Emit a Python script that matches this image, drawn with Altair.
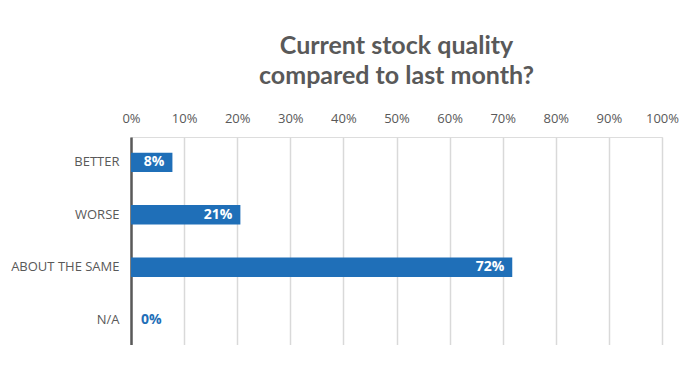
import altair as alt
import pandas as pd

categories = ["BETTER", "WORSE", "ABOUT THE SAME", "N/A"]
values = [0.078, 0.206, 0.718, 0.0]

df = pd.DataFrame({"cat": categories, "val": values})

FONT = "Open Sans"
GREY = "#595959"
BLUE = "#1f6fb8"

y_enc = alt.Y("cat:N", sort=categories, title=None,
              scale=alt.Scale(paddingInner=0.63, paddingOuter=0.3),
              axis=alt.Axis(labelFont=FONT, labelFontSize=13, labelColor=GREY,
                            labelPadding=12, ticks=False, domainColor="#595959",
                            domainWidth=2.5, grid=False))
x_enc = alt.X("val:Q", title=None,
              scale=alt.Scale(domain=[0, 1]),
              axis=alt.Axis(orient="top", format=".0%", values=[i / 10 for i in range(11)],
                            labelFont=FONT, labelFontSize=13, labelColor=GREY,
                            labelPadding=12, ticks=False, domain=False,
                            labelFlush=False, labelOverlap=False, labelBound=False,
                            grid=True, gridColor="#d9d9d9", gridWidth=1.5))

base = alt.Chart(df)
bars = base.mark_bar(color=BLUE).encode(x=x_enc, y=y_enc)
labels_in = base.transform_filter("datum.val > 0").mark_text(
    align="right", dx=-8, font=FONT, fontSize=14, fontWeight="bold", color="white"
).encode(x="val:Q", y=alt.Y("cat:N", sort=categories), text=alt.Text("val:Q", format=".0%"))
labels_zero = base.transform_filter("datum.val <= 0").mark_text(
    align="left", dx=10, font=FONT, fontSize=14, fontWeight="bold", color=BLUE
).encode(x="val:Q", y=alt.Y("cat:N", sort=categories), text=alt.Text("val:Q", format=".0%"))

chart = alt.layer(bars, labels_in, labels_zero).properties(
    width=531, height=208,
    autosize=alt.AutoSizeParams(type="none"),
    padding={"left": 123, "top": 129, "right": 30, "bottom": 0},
    title=alt.TitleParams(["Current stock quality", "compared to last month?"],
                          font="Lato", fontSize=25, fontWeight="bold", color=GREY,
                          anchor="middle", offset=23, lineHeight=30),
).configure_view(stroke=None).configure(background="white")

chart.save("out.html", embed_options={"renderer": "svg", "actions": False})
